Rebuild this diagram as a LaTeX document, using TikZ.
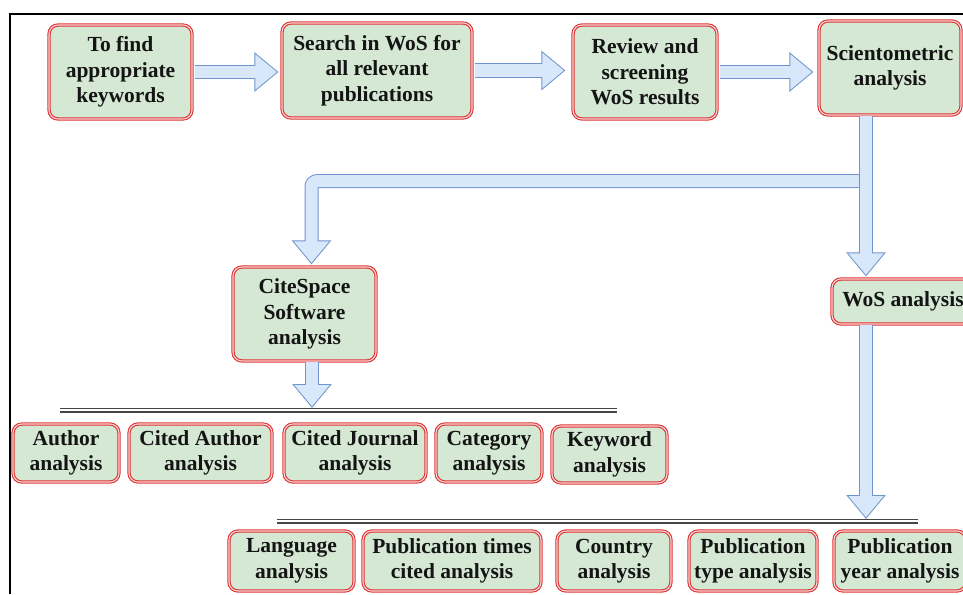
\documentclass[tikz,border=0pt]{standalone}
\usepackage{fontspec}
\setmainfont{Liberation Serif}
\usepackage{tikz}
\usetikzlibrary{arrows.meta}
\usepackage{xcolor}
\definecolor{caixafundo}{RGB}{213,232,212}
\definecolor{caixaborda}{RGB}{222,52,52}
\definecolor{caixarosa}{RGB}{250,212,212}
\definecolor{setafundo}{RGB}{216,232,250}
\definecolor{setaborda}{RGB}{112,148,205}
\definecolor{texto}{RGB}{20,20,20}
\definecolor{barracor}{RGB}{70,70,70}

\begin{document}
\begin{tikzpicture}[x=1pt, y=-1pt,
    caixa/.style={rectangle, rounded corners=9pt, fill=caixafundo, draw=caixaborda,
        double=caixarosa, double distance=1.1pt, line width=1.1pt, align=center,
        text=texto, inner sep=2pt, font=\bfseries\fontsize{21.5}{25.5}\selectfont},
    seta/.style={draw=setaborda, line width=14pt, -{Triangle[length=24pt,width=38pt]},
        postaction={draw=setafundo, line width=12pt, shorten >=1.6pt,
            -{Triangle[length=21.4pt,width=33.9pt]}}},
    barra/.style={draw=barracor, line width=1.3pt, double=white, double distance=2.4pt}]
    \useasboundingbox (0,0) rectangle (963,594);
    % Moldura
    \draw[line width=1.5pt] (10,594) |- (963,14);
    % Etapas
    \node[caixa, minimum width=143pt, minimum height=94pt] (b1) at (120.5,72) {To find\\appropriate\\keywords};
    \node[caixa, minimum width=190pt, minimum height=95pt] (b2) at (377,70.5) {Search in WoS for\\all relevant\\publications};
    \node[caixa, minimum width=144pt, minimum height=94pt] (b3) at (645,72) {Review and\\screening\\WoS results};
    \node[caixa, minimum width=142pt, minimum height=94pt] (b4) at (890,68) {Scientometric\\analysis};
    \node[caixa, minimum width=143pt, minimum height=94pt] (cite) at (304.5,314) {CiteSpace\\Software\\analysis};
    \node[caixa, minimum width=142pt, minimum height=45pt] (wos) at (903,301.5) {WoS analysis};
    % CiteSpace
    \node[caixa, minimum width=106pt, minimum height=58pt] (autor) at (66,453) {Author\\analysis};
    \node[caixa, minimum width=143pt, minimum height=58pt] (citautor) at (200.5,453) {Cited Author\\analysis};
    \node[caixa, minimum width=142pt, minimum height=58pt] (revista) at (355,453) {Cited Journal\\analysis};
    \node[caixa, minimum width=106pt, minimum height=58pt] (categoria) at (489,453) {Category\\analysis};
    \node[caixa, minimum width=115pt, minimum height=57pt] (palavra) at (609.5,454.5) {Keyword\\analysis};
    % WoS
    \node[caixa, minimum width=125pt, minimum height=60pt] (idioma) at (291.5,561) {Language\\analysis};
    \node[caixa, minimum width=178pt, minimum height=60pt] (citacoes) at (452,561) {Publication times\\cited analysis};
    \node[caixa, minimum width=114pt, minimum height=60pt] (pais) at (614,561) {Country\\analysis};
    \node[caixa, minimum width=128pt, minimum height=60pt] (tipo) at (753,561) {Publication\\type analysis};
    \node[caixa, minimum width=132pt, minimum height=60pt] (ano) at (900,561) {Publication\\year analysis};
    % Barras
    \coordinate (l1a) at (60,410);
    \coordinate (l1b) at (617,410);
    \coordinate (l2a) at (277,521);
    \coordinate (l2b) at (918,521);
    \draw[barra] (l1a) -- (l1b);
    \draw[barra] (l2a) -- (l2b);
    % Setas
    \coordinate (fork) at (866,181);
    \coordinate (tip1) at (312,408);
    \coordinate (tip2) at (866,519);
    \draw[seta] ([xshift=2pt]b1.east) -- ([xshift=-3pt]b1.east -| b2.west);
    \draw[seta] ([xshift=2pt]b2.east) -- ([xshift=-7pt]b2.east -| b3.west);
    \draw[seta] ([xshift=2pt]b3.east) -- ([xshift=-5pt]b3.east -| b4.west);
    \draw[seta, rounded corners=6pt] (fork) -| ([xshift=7pt,yshift=2pt]cite.north);
    \draw[seta] (b4.south -| fork) -- ([yshift=2pt]wos.north -| fork);
    \draw[seta] (cite.south -| tip1) -- (tip1);
    \draw[seta] (wos.south -| tip2) -- (tip2);
\end{tikzpicture}
\end{document}
